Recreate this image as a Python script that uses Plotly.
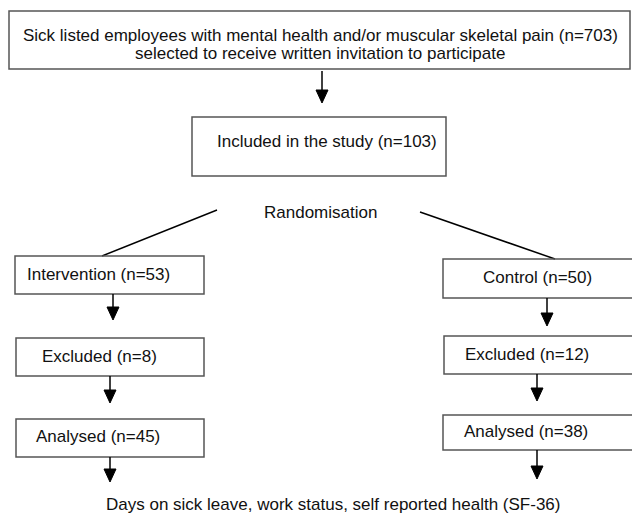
import plotly.graph_objects as go

# ---- content (flowchart labels and counts) ----
stages = ["Sick listed employees with mental health and/or muscular skeletal pain",
          "Included in the study"]
stage_n = [703, 103]
top_line2 = "selected to receive written invitation to participate"
split_label = "Randomisation"
arm_names = ["Intervention", "Control"]
arm_n = [53, 50]
excluded_n = [8, 12]
analysed_n = [45, 38]
outcome_label = "Days on sick leave, work status, self reported health (SF-36)"

# ---- layout geometry (pixels in a 632x514 page) ----
W, H = 632, 514
FONT = dict(family="Liberation Sans, Arial, sans-serif", size=17, color="#111111")
BOX_LINE = dict(color="#555555", width=1.5)
LINE = dict(color="#000000", width=1.5)

# boxes: (x0, y0, x1, y1)
top_box = (9, 11, 630, 69)
incl_box = (192, 117, 446, 176)
left_boxes = [(15, 256, 204, 294), (16, 338, 204, 376), (16, 419, 204, 457)]
right_boxes = [(443, 259, 640, 298), (444, 336, 640, 374), (443, 415, 640, 450)]
left_text = [(25, 274), (40, 356), (34, 436)]
right_text = [(481, 277), (463, 354), (462, 431)]
# arrows: (x, y_start, y_end)
arrows = [(322, 71, 103), (113, 294, 320), (110, 376, 403), (110, 457, 482),
          (547, 298, 326), (537, 374, 401), (537, 450, 479)]
diag = [((217, 210), (102, 256)), ((420, 212), (555, 259))]

shapes = []
annotations = []


def box(b):
    shapes.append(dict(type="rect", xref="x", yref="y", x0=b[0], y0=b[1], x1=b[2], y1=b[3],
                       line=BOX_LINE, fillcolor="rgba(0,0,0,0)"))


def text(x, y, s, anchor="left"):
    annotations.append(dict(x=x, y=y, xref="x", yref="y", text=s, showarrow=False,
                            xanchor=anchor, yanchor="middle", font=FONT))


def arrow(x, y0, y1):
    hh, hw = 13, 6
    shapes.append(dict(type="line", xref="x", yref="y", x0=x, y0=y0, x1=x, y1=y1 - hh + 1, line=LINE))
    shapes.append(dict(type="path", xref="x", yref="y",
                       path=f"M {x-hw},{y1-hh} L {x+hw},{y1-hh} L {x},{y1} Z",
                       fillcolor="#000000", line=dict(color="#000000", width=1)))


box(top_box)
text(320, 35, f"{stages[0]} (n={stage_n[0]})", "center")
text(320, 53, top_line2, "center")
box(incl_box)
text(215, 141, f"{stages[1]} (n={stage_n[1]})")
text(320, 212, split_label, "center")
for (p0, p1) in diag:
    shapes.append(dict(type="line", xref="x", yref="y", x0=p0[0], y0=p0[1], x1=p1[0], y1=p1[1], line=LINE))

labels_by_arm = []
for i in range(2):
    labels_by_arm.append([f"{arm_names[i]} (n={arm_n[i]})",
                          f"Excluded (n={excluded_n[i]})",
                          f"Analysed (n={analysed_n[i]})"])
for b, t, s in zip(left_boxes, left_text, labels_by_arm[0]):
    box(b)
    text(t[0], t[1], s)
for b, t, s in zip(right_boxes, right_text, labels_by_arm[1]):
    box(b)
    text(t[0], t[1], s)
for a in arrows:
    arrow(*a)
text(333, 504, outcome_label, "center")

fig = go.Figure()
fig.add_trace(go.Scatter(x=[0, W], y=[0, H], mode="markers", marker=dict(opacity=0),
                         hoverinfo="skip", showlegend=False))
fig.update_layout(width=W, height=H, margin=dict(l=0, r=0, t=0, b=0),
                  paper_bgcolor="white", plot_bgcolor="white",
                  shapes=shapes, annotations=annotations, showlegend=False)
fig.update_xaxes(range=[0, W], visible=False, fixedrange=True)
fig.update_yaxes(range=[H, 0], visible=False, fixedrange=True)
fig.write_html("out.html", config={"displayModeBar": False},
               post_script="document.body.style.margin='0';document.body.style.overflow='hidden';")
